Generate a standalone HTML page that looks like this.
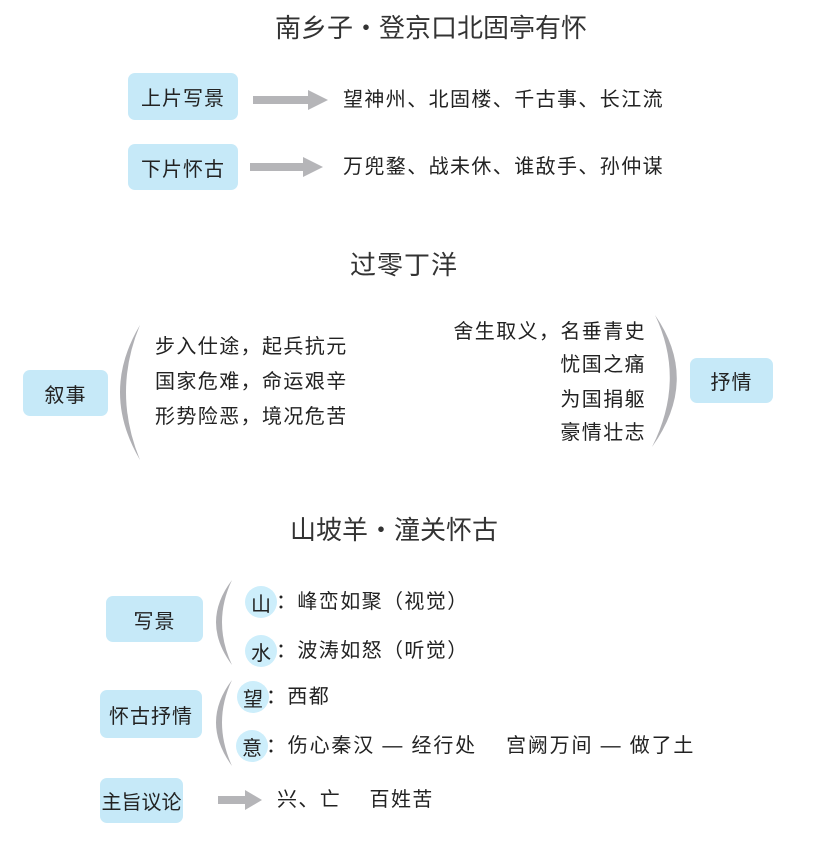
<!DOCTYPE html>
<html><head><meta charset="utf-8"><style>
body{margin:0;width:813px;height:850px;background:#fff;position:relative;overflow:hidden;font-family:"Liberation Sans","Noto Sans CJK SC",sans-serif;color:#222}
.a{position:absolute;white-space:nowrap;line-height:1}
.t{font-size:26px;color:#333}
.b{position:absolute;background:#c6e9f8;border-radius:7px;display:flex;align-items:center;justify-content:center;font-size:20px;color:#222;letter-spacing:1px;white-space:nowrap}
.x{font-size:20px;letter-spacing:1.4px}
.c{position:absolute;width:32px;height:32px;border-radius:50%;background:#cdeefb;font-size:20px;display:flex;align-items:center;justify-content:center}
</style></head><body>
<svg width="813" height="850" style="position:absolute;left:0;top:0">
<g fill="#b5b5b8">
<rect x="253" y="96" width="58" height="8"/><polygon points="308,90 328,100 308,110"/>
<rect x="250" y="163" width="56" height="8"/><polygon points="303,157 323,167 303,177"/>
<rect x="218" y="796" width="30" height="8"/><polygon points="245,790 262,800 245,810"/>
</g>
<g fill="#b0b0b4">
<path d="M140,325 Q100,392 140,460 Q112,392 140,325Z"/>
<path d="M655,315 Q700,380 652,447 Q686,380 655,315Z"/>
<path d="M232,580 Q200,622 232,665 Q212,622 232,580Z"/>
<path d="M232,680 Q200,722 232,766 Q212,722 232,680Z"/>
</g>
</svg>
<div class="a t" style="left:275px;top:15px">南乡子・登京口北固亭有怀</div>
<div class="b" style="left:128px;top:73px;width:110px;height:47px">上片写景</div>
<div class="a x" style="left:343px;top:90px">望神州、北固楼、千古事、长江流</div>
<div class="b" style="left:128px;top:144px;width:110px;height:46px">下片怀古</div>
<div class="a x" style="left:343px;top:157px">万兜鍪、战未休、谁敌手、孙仲谋</div>

<div class="a t" style="left:350px;top:252px;letter-spacing:1px">过零丁洋</div>
<div class="b" style="left:23px;top:370px;width:85px;height:46px">叙事</div>
<div class="a x" style="left:155px;top:337px">步入仕途，起兵抗元</div>
<div class="a x" style="left:155px;top:372px">国家危难，命运艰辛</div>
<div class="a x" style="left:155px;top:407px">形势险恶，境况危苦</div>
<div class="a x" style="right:167px;top:322px">舍生取义，名垂青史</div>
<div class="a x" style="right:167px;top:355px">忧国之痛</div>
<div class="a x" style="right:167px;top:390px">为国捐躯</div>
<div class="a x" style="right:167px;top:423px">豪情壮志</div>
<div class="b" style="left:690px;top:358px;width:83px;height:45px">抒情</div>

<div class="a t" style="left:290px;top:517px">山坡羊・潼关怀古</div>
<div class="b" style="left:106px;top:596px;width:97px;height:46px">写景</div>
<div class="c" style="left:245px;top:586px">山</div><div class="a x" style="left:276px;top:592px">：峰峦如聚（视觉）</div>
<div class="c" style="left:245px;top:635px">水</div><div class="a x" style="left:276px;top:641px">：波涛如怒（听觉）</div>
<div class="b" style="left:100px;top:690px;width:102px;height:48px">怀古抒情</div>
<div class="c" style="left:237px;top:681px">望</div><div class="a x" style="left:266px;top:687px">：西都</div>
<div class="c" style="left:236px;top:730px">意</div><div class="a x" style="left:266px;top:736px;letter-spacing:1.8px">：伤心秦汉 — 经行处　 宫阙万间 — 做了土</div>
<div class="b" style="left:100px;top:778px;width:83px;height:45px;letter-spacing:0">主旨议论</div>
<div class="a x" style="left:277px;top:790px">兴、亡　 百姓苦</div>
</body></html>
